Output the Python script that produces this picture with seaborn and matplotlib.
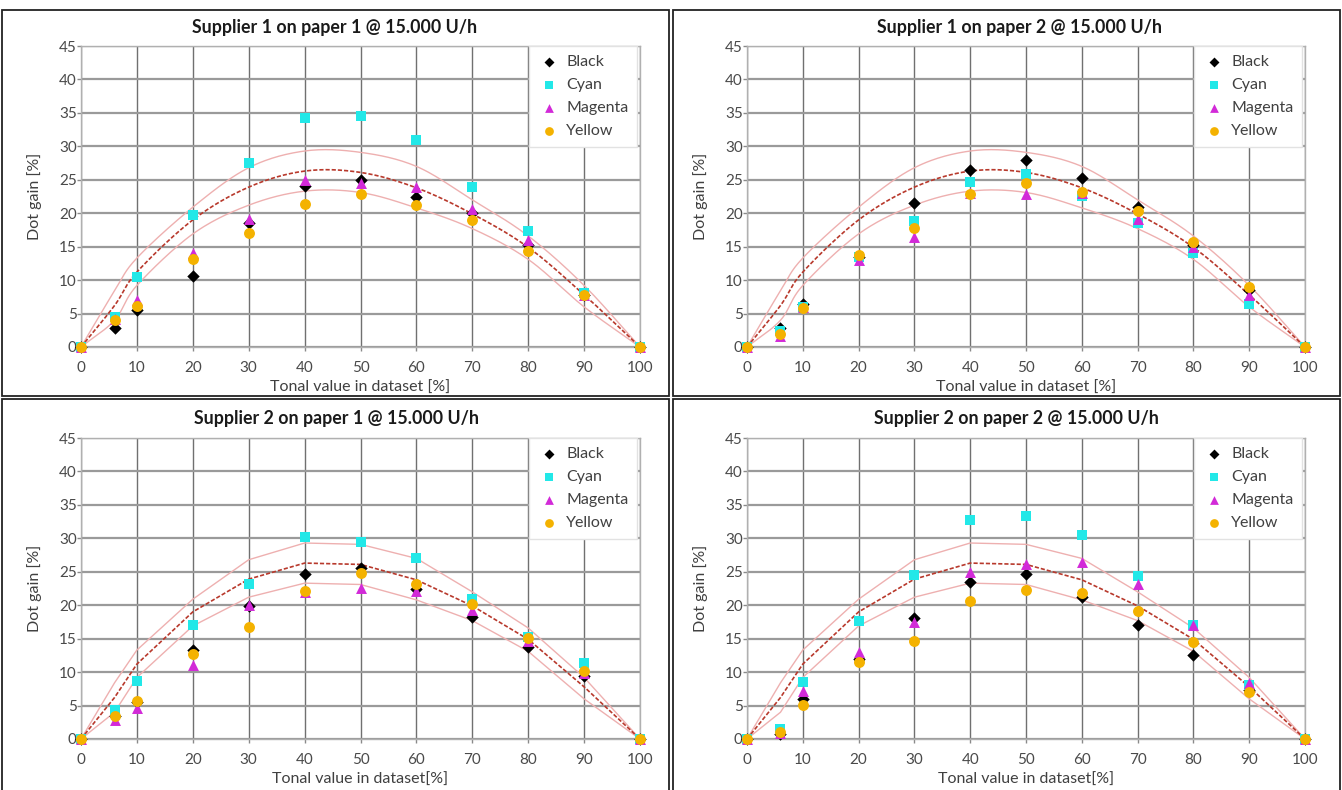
import numpy as np
import pandas as pd
import matplotlib
matplotlib.use("Agg")
import matplotlib.pyplot as plt
from matplotlib.patches import Rectangle
import seaborn as sns

# Tonal values of the measured patches [%]
tone = [0, 6, 10, 20, 30, 40, 50, 60, 70, 80, 90, 100]
colours = ["Black", "Cyan", "Magenta", "Yellow"]

# Supplier 1 on paper 1
s1p1_black = [0, 2.8, 5.6, 10.6, 18.6, 24.1, 25.0, 22.5, 20.0, 15.2, 7.8, 0]
s1p1_cyan = [0, 4.5, 10.4, 19.8, 27.5, 34.2, 34.6, 31.0, 23.9, 17.3, 8.0, 0]
s1p1_magenta = [0, 4.2, 7.0, 14.0, 19.1, 25.0, 24.5, 23.9, 20.7, 16.0, 7.8, 0]
s1p1_yellow = [0, 4.0, 6.1, 13.2, 17.0, 21.4, 22.9, 21.3, 19.0, 14.4, 7.7, 0]

# Supplier 1 on paper 2
s1p2_black = [0, 2.8, 6.4, 13.5, 21.5, 26.5, 28.0, 25.2, 21.0, 15.3, 8.5, 0]
s1p2_cyan = [0, 2.4, 6.0, 13.5, 18.9, 24.7, 25.9, 22.6, 18.6, 14.0, 6.4, 0]
s1p2_magenta = [0, 1.6, 6.0, 13.0, 16.4, 23.0, 22.8, 23.0, 19.2, 15.0, 7.7, 0]
s1p2_yellow = [0, 2.0, 5.8, 13.7, 17.8, 22.8, 24.5, 23.2, 20.4, 15.7, 8.9, 0]

# Supplier 2 on paper 1
s2p1_black = [0, 3.5, 5.5, 13.3, 19.9, 24.7, 25.6, 22.5, 18.3, 13.7, 9.4, 0]
s2p1_cyan = [0, 4.4, 8.6, 17.0, 23.1, 30.2, 29.5, 27.1, 21.0, 15.2, 11.4, 0]
s2p1_magenta = [0, 2.8, 4.7, 11.1, 20.0, 22.0, 22.6, 22.1, 19.3, 14.7, 9.8, 0]
s2p1_yellow = [0, 3.5, 5.7, 12.7, 16.7, 22.2, 24.8, 23.2, 20.2, 15.1, 10.2, 0]

# Supplier 2 on paper 2
s2p2_black = [0, 0.8, 6.0, 12.0, 18.1, 23.5, 24.6, 21.2, 17.1, 12.6, 7.3, 0]
s2p2_cyan = [0, 1.5, 8.5, 17.7, 24.5, 32.8, 33.4, 30.5, 24.3, 17.1, 8.0, 0]
s2p2_magenta = [0, 0.9, 7.2, 13.0, 17.5, 25.0, 26.2, 26.4, 23.1, 17.0, 8.4, 0]
s2p2_yellow = [0, 1.0, 5.1, 11.5, 14.7, 20.7, 22.3, 21.9, 19.2, 14.5, 7.1, 0]

# Aim curve and tolerance band
ref_tone = [0, 6, 10, 20, 30, 40, 50, 60, 70, 80, 90, 100]
ref_center = [0, 6.2, 11.2, 19.0, 23.9, 26.3, 26.1, 23.8, 19.9, 14.9, 7.8, 0]
ref_upper = [0, 8.4, 13.3, 20.9, 26.8, 29.3, 29.1, 27.0, 22.0, 16.6, 9.2, 0]
ref_lower = [0, 4.0, 9.2, 16.9, 21.2, 23.3, 23.1, 20.8, 17.7, 13.1, 6.0, 0]

titles = ["Supplier 1 on paper 1 @ 15.000 U/h", "Supplier 1 on paper 2 @ 15.000 U/h",
          "Supplier 2 on paper 1 @ 15.000 U/h", "Supplier 2 on paper 2 @ 15.000 U/h"]
xlabels = ["Tonal value in dataset [%]", "Tonal value in dataset [%]",
           "Tonal value in dataset[%]", "Tonal value in dataset[%]"]
ylabel = "Dot gain [%]"

panels = [
    [s1p1_black, s1p1_cyan, s1p1_magenta, s1p1_yellow],
    [s1p2_black, s1p2_cyan, s1p2_magenta, s1p2_yellow],
    [s2p1_black, s2p1_cyan, s2p1_magenta, s2p1_yellow],
    [s2p2_black, s2p2_cyan, s2p2_magenta, s2p2_yellow],
]
smooth_curves = [True, True, False, False]

palette = {"Black": "#000000", "Cyan": "#22e8e8", "Magenta": "#d22ad8", "Yellow": "#f4b200"}
markers = {"Black": "D", "Cyan": "s", "Magenta": "^", "Yellow": "o"}
marker_area = {"Black": 40, "Cyan": 58, "Magenta": 62, "Yellow": 62}

sns.set_theme(style="white")
plt.rcParams["font.family"] = ["Lato", "DejaVu Sans"]

W, H = 1342, 790
fig = plt.figure(figsize=(W / 100, H / 100), dpi=100)


def catmull_rom(xs, ys, n=24):
    pts = np.column_stack([xs, ys]).astype(float)
    p = np.vstack([2 * pts[0] - pts[1], pts, 2 * pts[-1] - pts[-2]])
    t = np.linspace(0, 1, n, endpoint=False)
    out = []
    for i in range(1, len(p) - 2):
        p0, p1, p2, p3 = p[i - 1], p[i], p[i + 1], p[i + 2]
        seg = 0.5 * (np.outer(np.ones_like(t), 2 * p1)
                     + np.outer(t, -p0 + p2)
                     + np.outer(t ** 2, 2 * p0 - 5 * p1 + 4 * p2 - p3)
                     + np.outer(t ** 3, -p0 + 3 * p1 - 3 * p2 + p3))
        out.append(seg)
    out.append(pts[-1][None, :])
    return np.vstack(out)


# axes boxes in pixels: (left, top, right, bottom)
axes_px = [(81, 46, 640, 347), (747, 46, 1305, 347),
           (81, 438, 640, 739), (747, 438, 1305, 739)]
title_px = [(335, 27), (1020, 27), (337, 418), (1016, 418)]
box_px = [(2, 10, 669, 396), (673, 10, 1340, 396),
          (2, 399, 669, 800), (673, 399, 1340, 800)]

for k in range(4):
    l, t, r, b = axes_px[k]
    ax = fig.add_axes([l / W, 1 - b / H, (r - l) / W, (b - t) / H])

    # tolerance band and aim curve
    for vals, col, lw, ls in [(ref_upper, "#eeb0b0", 1.0, "-"),
                              (ref_lower, "#eeb0b0", 1.0, "-"),
                              (ref_center, "#b8392c", 1.2, (0, (2.5, 1.2)))]:
        if smooth_curves[k]:
            c = catmull_rom(ref_tone, vals)
            cx, cy = c[:, 0], c[:, 1]
        else:
            cx, cy = ref_tone, vals
        sns.lineplot(x=cx, y=cy, sort=False, estimator=None, ax=ax,
                     color=col, lw=lw, linestyle=ls, zorder=2)

    for name, vals in zip(colours, panels[k]):
        df = pd.DataFrame({"tone": tone, "gain": vals})
        sns.scatterplot(data=df, x="tone", y="gain", color=palette[name],
                        marker=markers[name], s=marker_area[name], linewidth=0,
                        ax=ax, zorder=3, clip_on=False, label=name)

    ax.set_xlim(0, 100)
    ax.set_ylim(0, 45)
    ax.set_xticks(range(0, 101, 10))
    ax.set_yticks(range(0, 46, 5))
    ax.yaxis.grid(True, color="#9a9a9a", lw=1.6)
    ax.xaxis.grid(True, color="#707070", lw=1.0)
    ax.set_axisbelow(True)
    for sp in ax.spines.values():
        sp.set_color("#b0b0b0")
        sp.set_linewidth(1.0)
    ax.tick_params(axis="x", which="major", length=3, width=1, color="#8a8a8a",
                   labelsize=11, labelcolor="#4a4a4a", pad=7, direction="out", bottom=True)
    ax.tick_params(axis="y", which="major", length=3, width=1, color="#8a8a8a",
                   labelsize=11, labelcolor="#4a4a4a", pad=0, direction="out", left=True)
    ax.set_xlabel(xlabels[k], fontsize=11.5, color="#404040", labelpad=4)
    ax.set_ylabel(ylabel, fontsize=11.5, color="#404040", labelpad=12)

    handles, labels = ax.get_legend_handles_labels()
    leg = ax.legend(handles, labels, loc="upper right", bbox_to_anchor=(0.995, 1.0),
                    frameon=True, framealpha=1, facecolor="white", edgecolor="#e2e2e2",
                    fancybox=False, fontsize=11.5, labelspacing=0.55, handletextpad=0.35,
                    handlelength=1.4, borderpad=0.55, borderaxespad=0.0, markerscale=0.8)
    for txt in leg.get_texts():
        txt.set_color("#404040")

    tx, ty = title_px[k]
    fig.text(tx / W, 1 - ty / H, titles[k], ha="center", va="center",
             fontsize=12.8, fontweight="bold", color="#1a1a1a")

    bl, bt, br, bb = box_px[k]
    fig.add_artist(Rectangle((bl / W, 1 - bb / H), (br - bl) / W, (bb - bt) / H,
                             transform=fig.transFigure, fill=False,
                             edgecolor="#222222", lw=1.3))

fig.savefig("out.png", dpi=100, facecolor="white")
